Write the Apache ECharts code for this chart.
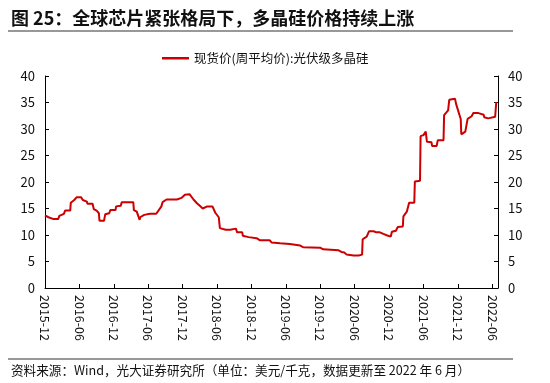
<!DOCTYPE html>
<html><head><meta charset="utf-8">
<script src="https://cdn.jsdelivr.net/npm/echarts@6/dist/echarts.min.js"></script>
<style>html,body{margin:0;padding:0;background:#fff}#c{width:550px;height:383px}</style>
</head><body><div id="c"></div>
<script>
const titleText = '图 25：全球芯片紧张格局下，多晶硅价格持续上涨';
const sourceText = '资料来源：Wind，光大证券研究所（单位：美元/千克，数据更新至 2022 年 6 月）';
const seriesName = '现货价(周平均价):光伏级多晶硅';
const yTicks = [0, 5, 10, 15, 20, 25, 30, 35, 40];
const xTickLabels = ['2015-12','2016-06','2016-12','2017-06','2017-12','2018-06','2018-12','2019-06','2019-12','2020-06','2020-12','2021-06','2021-12','2022-06'];
const dates = ['2015-12-01','2015-12-19','2016-01-16','2016-02-10','2016-02-16','2016-03-10','2016-03-16','2016-04-13','2016-04-16','2016-05-04','2016-05-16','2016-06-10','2016-06-19','2016-07-10','2016-07-13','2016-08-10','2016-08-16','2016-09-01','2016-09-13','2016-09-16','2016-10-10','2016-10-16','2016-11-07','2016-11-13','2016-12-10','2016-12-13','2017-01-07','2017-01-13','2017-03-13','2017-03-16','2017-04-01','2017-04-10','2017-04-16','2017-04-19','2017-05-10','2017-05-16','2017-06-10','2017-07-13','2017-08-10','2017-08-16','2017-09-07','2017-11-01','2017-11-25','2017-12-13','2018-01-07','2018-01-28','2018-02-16','2018-03-01','2018-03-16','2018-04-10','2018-05-07','2018-05-22','2018-06-10','2018-06-16','2018-07-16','2018-08-10','2018-08-13','2018-09-10','2018-09-16','2018-10-13','2018-10-16','2018-11-16','2018-12-28','2019-01-16','2019-03-07','2019-03-16','2019-05-01','2019-06-22','2019-08-16','2019-09-01','2019-12-01','2019-12-16','2020-03-07','2020-03-22','2020-04-07','2020-04-19','2020-05-25','2020-06-22','2020-07-10','2020-07-13','2020-08-04','2020-08-16','2020-09-10','2020-09-25','2020-10-13','2020-11-01','2020-11-22','2020-12-10','2020-12-16','2021-01-07','2021-01-16','2021-02-13','2021-02-16','2021-03-04','2021-03-16','2021-04-13','2021-04-16','2021-05-13','2021-05-16','2021-06-01','2021-06-13','2021-06-19','2021-07-13','2021-07-16','2021-08-10','2021-08-16','2021-09-16','2021-09-19','2021-10-10','2021-10-16','2021-11-16','2021-11-22','2021-12-16','2021-12-19','2022-01-10','2022-01-19','2022-01-22','2022-02-13','2022-02-22','2022-03-19','2022-03-25','2022-04-16','2022-04-19','2022-05-10','2022-05-16','2022-06-16','2022-06-22'];
const prices = [13.7,13.35,13.0,13.0,13.6,14.0,14.6,14.6,16.1,16.6,17.1,17.1,16.6,16.3,15.9,15.9,14.9,14.6,14.1,12.7,12.7,13.9,14.1,14.7,14.7,15.4,15.5,16.2,16.2,14.7,14.4,14.1,12.85,13.35,13.8,14.1,14.0,14.0,15.4,16.2,16.7,16.7,17.0,17.6,17.7,16.7,16.0,15.5,15.0,15.4,15.4,14.2,13.35,11.3,11.0,11.0,11.35,11.2,10.5,10.5,9.85,9.6,9.4,9.0,9.0,8.6,8.45,8.3,8.0,7.7,7.6,7.3,7.1,6.8,6.7,6.3,6.15,6.15,6.3,9.2,9.7,10.7,10.7,10.5,10.5,10.2,9.9,9.7,10.6,10.8,11.5,11.6,13.5,14.4,16.1,16.1,20.1,20.25,28.65,28.85,29.5,27.6,27.5,26.8,26.8,27.9,27.9,32.6,33.5,35.5,35.7,34.7,31.9,29.0,29.5,29.8,31.9,32.4,33.0,33.0,32.7,32.7,32.2,32.0,32.3,32.3,35.1];

// month offset from 2015-12-01
function monthIndex(s) {
  const [y, m, d] = s.split('-').map(Number);
  return (y - 2015) * 12 + (m - 12) + (d - 1) / 30;
}
const seriesData = dates.map((d, i) => [monthIndex(d), prices[i]]);

const FONT = '"Noto Sans CJK SC", "Noto Sans", sans-serif';
const chart = echarts.init(document.getElementById('c'), null, {renderer: 'canvas'});
const axisCommon = {
  axisLine: {show: true, lineStyle: {color: '#000', width: 1}},
  axisTick: {show: true, inside: true, length: 4, lineStyle: {color: '#000'}},
  splitLine: {show: false}
};
chart.setOption({
  animation: false,
  backgroundColor: '#fff',
  textStyle: {fontFamily: FONT},
  title: [
    {text: titleText, left: 6, top: 4, textStyle: {fontSize: 18, fontWeight: 'bold', color: '#111', fontFamily: FONT}},
    {text: sourceText, left: 6, top: 359, textStyle: {fontSize: 12.6, fontWeight: 'normal', color: '#111', fontFamily: FONT}}
  ],
  graphic: [
    {type: 'line', shape: {x1: 8, y1: 31, x2: 513, y2: 31}, style: {stroke: '#333', lineWidth: 1.2}},
    {type: 'line', shape: {x1: 8, y1: 359, x2: 513, y2: 359}, style: {stroke: '#333', lineWidth: 1}}
  ],
  legend: {
    left: 157, top: 47, itemWidth: 27, itemHeight: 12, itemGap: 5,
    data: [{name: seriesName, icon: 'path://M0,0L27,0L27,2.5L0,2.5Z'}],
    textStyle: {fontSize: 12.5, color: '#111', fontFamily: FONT}
  },
  grid: {left: 45, right: 52, top: 76, bottom: 95, containLabel: false},
  xAxis: Object.assign({}, axisCommon, {
    type: 'value', min: 0, max: 79, interval: 6,
    axisLabel: {
      rotate: -90, fontSize: 12.5, color: '#111', margin: 7, showMaxLabel: false,
      formatter: v => { const k = Math.round(v / 6); return xTickLabels[k] !== undefined && v % 6 === 0 ? xTickLabels[k] : ''; }
    }
  }),
  yAxis: [
    Object.assign({}, axisCommon, {
      type: 'value', min: yTicks[0], max: yTicks[yTicks.length - 1], interval: 5, position: 'left',
      axisLabel: {fontSize: 13, color: '#111', margin: 10}
    }),
    Object.assign({}, axisCommon, {
      type: 'value', min: yTicks[0], max: yTicks[yTicks.length - 1], interval: 5, position: 'right',
      axisLabel: {fontSize: 13, color: '#111', margin: 10}
    })
  ],
  series: [{
    name: seriesName, type: 'line', yAxisIndex: 0, data: seriesData,
    showSymbol: false, symbol: 'none',
    lineStyle: {color: '#CC0000', width: 2}, itemStyle: {color: '#CC0000'}
  }]
});
</script></body></html>
